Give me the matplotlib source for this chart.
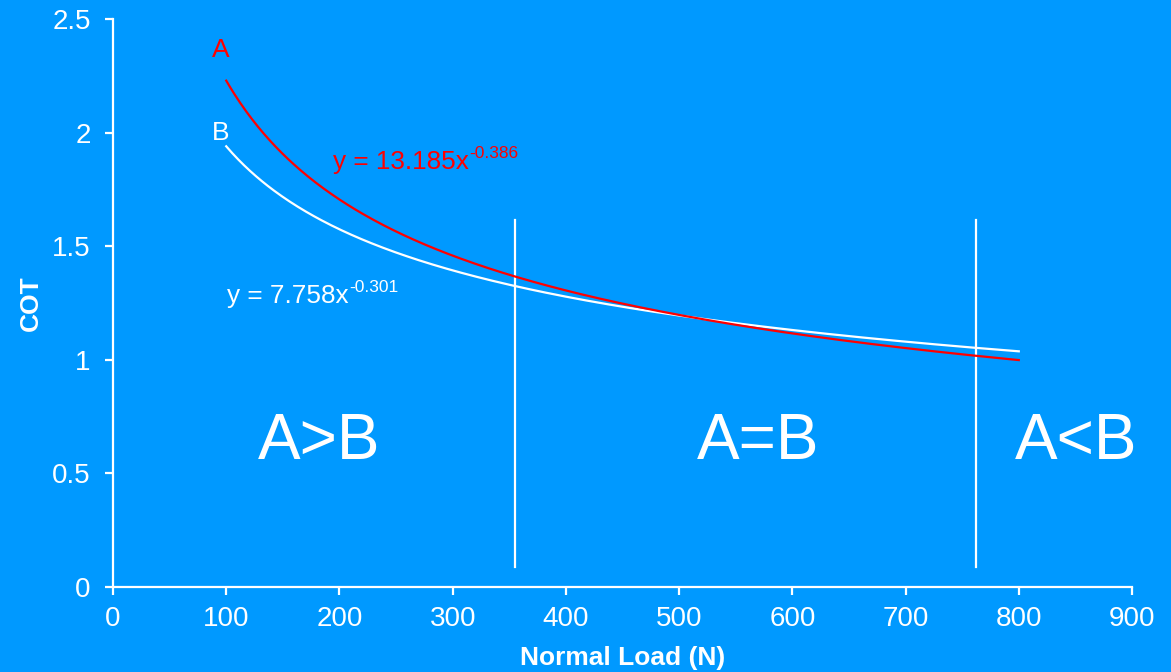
import numpy as np
import matplotlib
matplotlib.use("Agg")
import matplotlib.pyplot as plt

plt.rcParams["font.family"] = ["Liberation Sans", "DejaVu Sans"]

# Power-law trend fits  COT = a * load^b
fit_a = {"coef": 13.185, "exp": -0.386}
fit_b = {"coef": 7.758, "exp": -0.301}
load_range = (100, 800)

# Regime boundaries (N)
boundaries = [355, 762]
regions = ["A>B", "A=B", "A<B"]
region_x = [182, 570, 851]

x_ticks = [0, 100, 200, 300, 400, 500, 600, 700, 800, 900]
y_ticks = [0, 0.5, 1, 1.5, 2, 2.5]

BG = "#0099FF"
FG = "white"
RED = "#FF0000"

fig = plt.figure(figsize=(11.71, 6.72), dpi=100, facecolor=BG)
ax = fig.add_axes([0.0965, 0.1265, 0.8702, 0.8452], facecolor=BG)

x = np.linspace(load_range[0], load_range[1], 400)
ax.plot(x, fit_b["coef"] * x ** fit_b["exp"], color=FG, lw=1.6, zorder=3)
ax.plot(x, fit_a["coef"] * x ** fit_a["exp"], color=RED, lw=1.6, zorder=4)

for b in boundaries:
    ax.plot([b, b], [0.088, 1.615], color=FG, lw=1.6, zorder=2)

for lab, rx in zip(regions, region_x):
    ax.text(rx, 0.64, lab, color=FG, fontsize=46, ha="center", va="center")

ax.text(95.4, 2.365, "A", color=RED, fontsize=19, ha="center", va="center")
ax.text(95.4, 1.998, "B", color=FG, fontsize=19, ha="center", va="center")


def equation(xp, yp, fit, color):
    base = ax.text(xp, yp, f"y = {fit['coef']:.3f}x", color=color,
                   fontsize=18.8, ha="left", va="center")
    ax.annotate(f"-{abs(fit['exp']):.3f}", xy=(1, 0.5), xycoords=base,
                xytext=(0.5, 6), textcoords="offset points", color=color,
                fontsize=12.5, ha="left", va="center")


equation(194, 1.872, fit_a, RED)
equation(101, 1.28, fit_b, FG)

ax.set_xlim(0, 900)
ax.set_ylim(0, 2.5)
ax.set_xticks(x_ticks)
ax.set_yticks(y_ticks)
ax.set_yticklabels(["0", "0.5", "1", "1.5", "2", "2.5"])

for side in ["top", "right"]:
    ax.spines[side].set_visible(False)
for side in ["left", "bottom"]:
    ax.spines[side].set_color(FG)
    ax.spines[side].set_linewidth(1.6)

ax.tick_params(axis="both", colors=FG, labelcolor=FG, labelsize=20,
               length=6, width=1.6, direction="out")
ax.tick_params(axis="x", pad=8)
ax.tick_params(axis="y", pad=10)

ax.set_xlabel("Normal Load (N)", color=FG, fontsize=19, fontweight="bold",
              labelpad=10)
ax.set_ylabel("COT", color=FG, fontsize=19, fontweight="bold", labelpad=7)

fig.savefig("out.png", dpi=100, facecolor=BG)
